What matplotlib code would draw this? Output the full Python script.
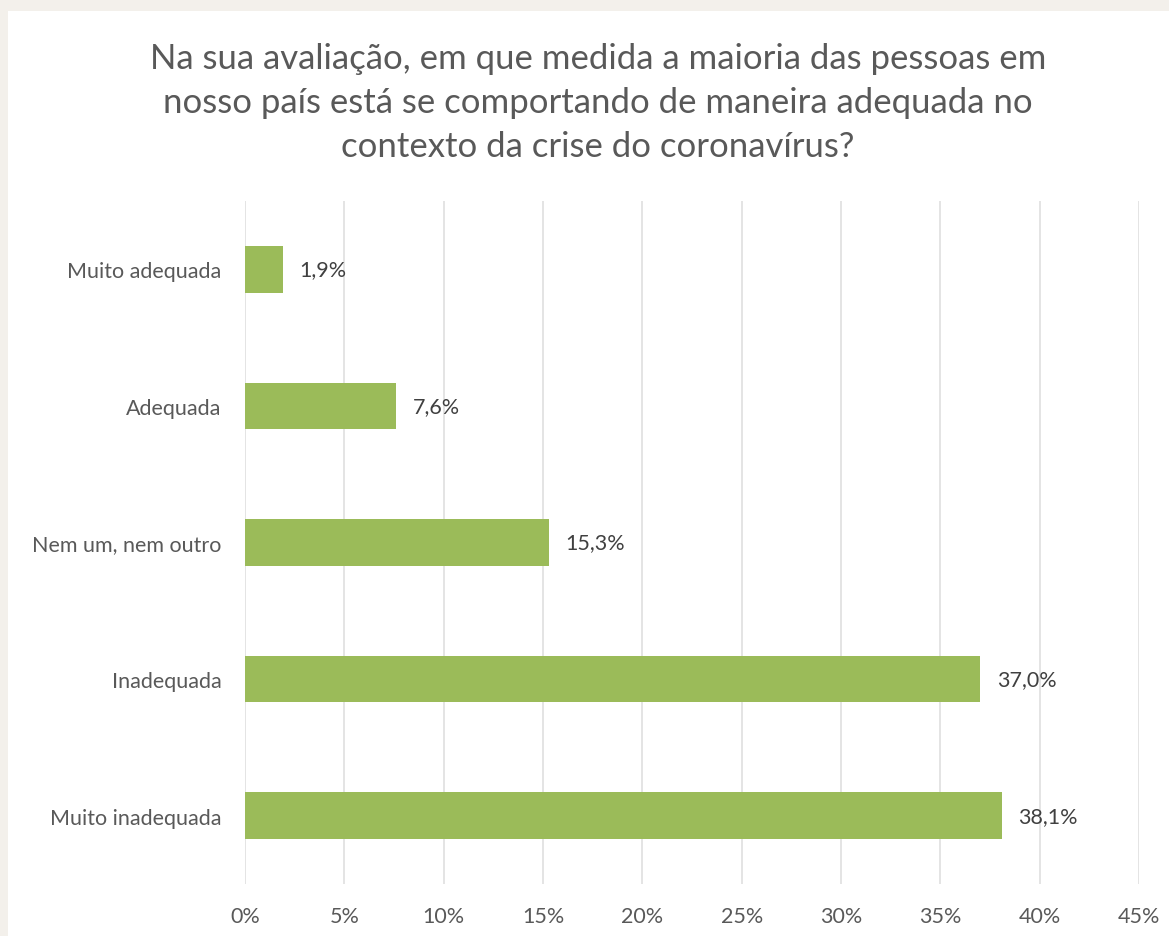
import matplotlib
matplotlib.use("Agg")
import matplotlib.pyplot as plt
from matplotlib.patches import Rectangle

categories = ["Muito adequada", "Adequada", "Nem um, nem outro", "Inadequada", "Muito inadequada"]
values = [1.9, 7.6, 15.3, 37.0, 38.1]
value_labels = ["1,9%", "7,6%", "15,3%", "37,0%", "38,1%"]
xticks = [0, 5, 10, 15, 20, 25, 30, 35, 40, 45]
xtick_labels = [f"{t}%" for t in xticks]
title = ("Na sua avaliação, em que medida a maioria das pessoas em\n"
         "nosso país está se comportando de maneira adequada no\n"
         "contexto da crise do coronavírus?")

plt.rcParams['font.family'] = ['Lato', 'DejaVu Sans']
W, H = 1169, 937
fig = plt.figure(figsize=(W / 100, H / 100), dpi=100)
fig.patch.set_facecolor("#f3f0eb")
# white panel
fig.add_artist(Rectangle((8 / W, 0), 1 - 8 / W, 1 - 12 / H, transform=fig.transFigure,
                         facecolor="white", edgecolor="none", zorder=0))

ax = fig.add_axes([245 / W, 1 - 885 / H, (1139 - 245) / W, (885 - 202) / H])
ax.set_facecolor("none")
ypos = list(range(len(categories)))
ax.barh(ypos, values, height=0.34, color="#9bbb59", zorder=3)
ax.set_ylim(4.5, -0.5)
ax.set_xlim(0, 45)
ax.set_xticks(xticks)
ax.set_xticklabels(xtick_labels)
ax.set_yticks(ypos)
ax.set_yticklabels(categories)
ax.grid(axis="x", color="#dcdcdc", linewidth=1.1, zorder=0)
for s in ax.spines.values():
    s.set_visible(False)
ax.tick_params(axis="both", length=0, colors="#595959", labelsize=15.5)
ax.tick_params(axis="x", pad=16)
ax.tick_params(axis="y", pad=17)

for y, v, lab in zip(ypos, values, value_labels):
    ax.annotate(lab, (v, y), xytext=(12, 0), textcoords="offset points",
                va="center", ha="left", fontsize=15.5, color="#404040")

fig.text(598 / W, 1 - 103 / H, title, ha="center", va="center", fontsize=25,
         color="#595959", linespacing=1.47)

fig.savefig("out.png", dpi=100, facecolor=fig.get_facecolor())
